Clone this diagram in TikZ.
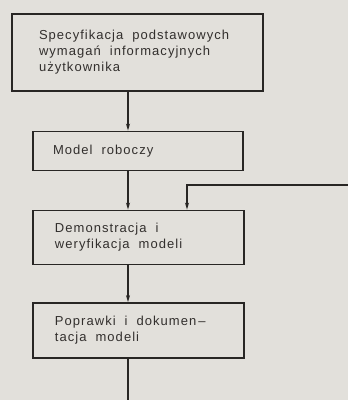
\documentclass[tikz,border=0pt]{standalone}
\usepackage{fontspec}
\setmainfont{Liberation Sans}[LetterSpace=8]
\usetikzlibrary{arrows.meta}
\definecolor{paper}{RGB}{226,224,219}
\definecolor{ink}{RGB}{40,38,36}
\definecolor{txt}{RGB}{50,47,45}
\newcommand{\boxfont}{\fontsize{13}{16}\selectfont}
\newcommand{\widespaces}{\spaceskip=9pt plus 2pt minus 1pt\relax}
\tikzset{
  box/.style={draw=ink, line width=1.8pt, rectangle, align=left, anchor=center,
    font=\boxfont, text=txt, inner ysep=0pt, execute at begin node=\widespaces},
  conn/.style={draw=ink, line width=1.1pt, -{Stealth[length=7pt,width=4pt]}},
  plain/.style={draw=ink, line width=1.1pt}
}
\begin{document}
\begin{tikzpicture}[x=1pt,y=-1pt]
\fill[paper] (0,0) rectangle (348,400);
\useasboundingbox (0,0) rectangle (348,400);
\node[box, minimum width=251pt, minimum height=77pt, text width=197pt, inner xsep=27pt] (b1) at (137.5,52.5)
  {Specyfikacja podstawowych\\wymagań informacyjnych\\użytkownika};
\node[box, minimum width=210pt, minimum height=39pt, text width=170pt, inner xsep=20pt] (b2) at (138,151)
  {Model roboczy};
\node[box, minimum width=211pt, minimum height=54pt, text width=167pt, inner xsep=22pt] (b3) at (138.5,237.5)
  {Demonstracja i\\weryfikacja modeli};
\node[box, minimum width=211pt, minimum height=55pt, text width=167pt, inner xsep=22pt] (b4) at (138.5,330.5)
  {Poprawki i dokumen\,--\\tacja modeli};
\coordinate (fb) at (348,185);
\coordinate (out) at (128,400);
\draw[conn] ([xshift=-9.5pt]b1.south) -- ([xshift=-10pt]b2.north);
\draw[conn] ([xshift=-10pt]b2.south) -- ([xshift=-10.5pt]b3.north);
\draw[conn] ([xshift=-10.5pt]b3.south) -- ([xshift=-10.5pt]b4.north);
\draw[conn] (fb) -| ([xshift=48.5pt]b3.north);
\draw[plain] ([xshift=-10.5pt]b4.south) -- (out);
\end{tikzpicture}
\end{document}
